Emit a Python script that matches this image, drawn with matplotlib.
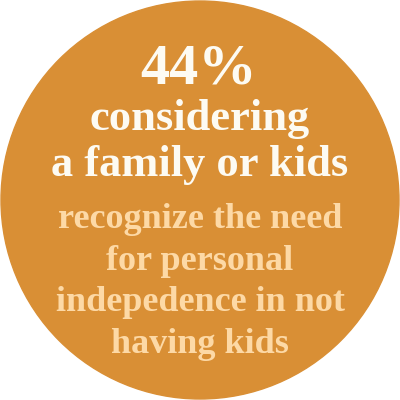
import matplotlib
matplotlib.use("Agg")
import matplotlib.pyplot as plt
from matplotlib.patches import Circle

value_text = "44%"
headline_lines = ["considering", "a family or kids"]
body_lines = ["recognize the need", "for personal", "indepedence in not", "having kids"]

circle_color = "#D98F35"
white = "#FDFBF3"
light = "#FDD9A6"

fig = plt.figure(figsize=(4, 4), dpi=100)
ax = fig.add_axes([0, 0, 1, 1])
ax.set_xlim(0, 400)
ax.set_ylim(400, 0)
ax.axis("off")
ax.add_patch(Circle((200, 200), 199, color=circle_color))

fam = ["Liberation Serif", "DejaVu Serif"]
ax.text(199, 83, value_text, ha="center", va="baseline", fontsize=42, color=white,
        family=fam, fontweight="bold")
for y, t in zip([130, 176], headline_lines):
    ax.text(200, y, t, ha="center", va="baseline", fontsize=32, color=white,
            family=fam, fontweight="bold")
for y, t in zip([228, 270, 311, 353], body_lines):
    ax.text(200, y, t, ha="center", va="baseline", fontsize=26, color=light,
            family=fam, fontweight="bold")

fig.savefig("out.png", dpi=100)
